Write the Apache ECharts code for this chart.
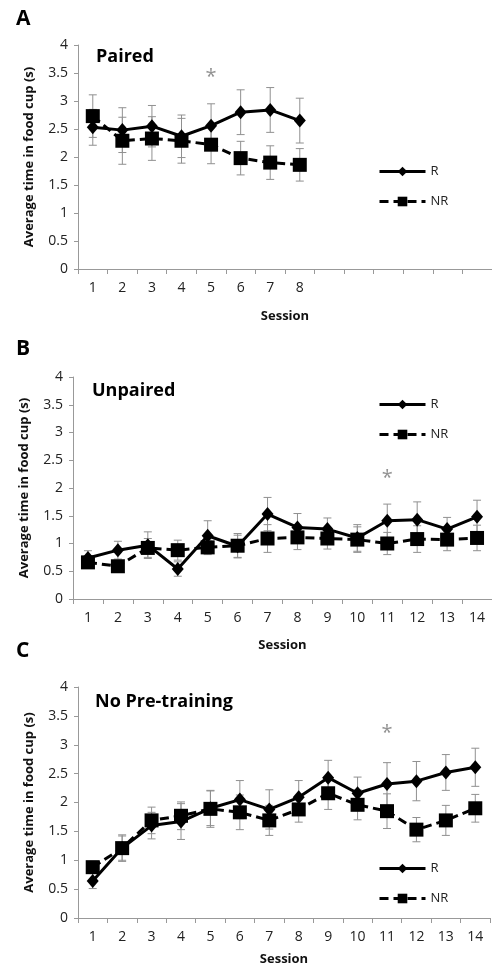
<!DOCTYPE html>
<html>
<head>
<meta charset="utf-8">
<script src="https://cdn.jsdelivr.net/npm/echarts@6/dist/echarts.min.js"></script>
<style>
  html, body { margin: 0; padding: 0; background: #fff; }
  #main { width: 492px; height: 967px; }
</style>
</head>
<body>
<div id="main"></div>
<script>
// session labels
var sessionsA = ['1', '2', '3', '4', '5', '6', '7', '8', '', '', '', '', '', ''];
var sessions = ['1', '2', '3', '4', '5', '6', '7', '8', '9', '10', '11', '12', '13', '14'];

// A - Paired
var rA = [2.53, 2.48, 2.55, 2.37, 2.56, 2.8, 2.84, 2.65];
var rAerr = [0.32, 0.4, 0.37, 0.38, 0.39, 0.4, 0.4, 0.4];
var nrA = [2.73, 2.29, 2.33, 2.29, 2.22, 1.98, 1.9, 1.86];
var nrAerr = [0.38, 0.42, 0.39, 0.4, 0.34, 0.3, 0.3, 0.29];

// B - Unpaired
var rB = [0.74, 0.88, 0.97, 0.54, 1.14, 0.95, 1.53, 1.29, 1.26, 1.1, 1.41, 1.43, 1.26, 1.48];
var rBerr = [0.13, 0.16, 0.24, 0.13, 0.27, 0.2, 0.3, 0.25, 0.2, 0.24, 0.3, 0.32, 0.21, 0.3];
var nrB = [0.66, 0.59, 0.92, 0.88, 0.93, 0.96, 1.09, 1.11, 1.09, 1.07, 1.0, 1.08, 1.07, 1.1];
var nrBerr = [0.08, 0.08, 0.17, 0.18, 0.13, 0.22, 0.25, 0.22, 0.19, 0.23, 0.2, 0.24, 0.2, 0.23];

// C - No Pre-training
var rC = [0.64, 1.21, 1.6, 1.67, 1.9, 2.05, 1.88, 2.09, 2.43, 2.16, 2.32, 2.37, 2.52, 2.61];
var rCerr = [0.13, 0.23, 0.23, 0.31, 0.3, 0.33, 0.34, 0.29, 0.3, 0.28, 0.37, 0.34, 0.31, 0.33];
var nrC = [0.88, 1.21, 1.69, 1.77, 1.89, 1.83, 1.69, 1.88, 2.16, 1.96, 1.85, 1.53, 1.69, 1.9];
var nrCerr = [0.1, 0.21, 0.23, 0.24, 0.32, 0.3, 0.26, 0.22, 0.28, 0.26, 0.3, 0.21, 0.26, 0.24];

// significance stars [session index, y]
var starA = [4, 3.42];
var starB = [10, 2.18];
var starC = [10, 3.2];

var FONT = '"Open Sans", "Liberation Sans", sans-serif';
var grids = [
  { left: 78, top: 45, width: 417, height: 224 },
  { left: 73, top: 377, width: 420, height: 222 },
  { left: 78, top: 687, width: 412, height: 231 }
];

function xAxisFor(i, cats, gap) {
  return {
    type: 'category', gridIndex: i, data: cats, boundaryGap: true,
    name: 'Session', nameLocation: 'middle', nameGap: gap,
    nameTextStyle: { fontFamily: FONT, fontWeight: 'bold', fontSize: 13, color: '#111' },
    axisLine: { lineStyle: { color: '#999', width: 1 } },
    axisTick: { show: true, inside: false, length: 5, alignWithLabel: false, lineStyle: { color: '#999' } },
    axisLabel: { fontFamily: FONT, fontSize: 14, color: '#222', margin: 12, interval: 0 },
    splitLine: { show: false }
  };
}
function yAxisFor(i) {
  return {
    type: 'value', gridIndex: i, min: 0, max: 4, interval: 0.5,
    name: 'Average time in food cup (s)', nameLocation: 'middle', nameRotate: 90, nameGap: 42,
    nameTextStyle: { fontFamily: FONT, fontWeight: 'bold', fontSize: 13, color: '#111' },
    axisLine: { show: true, lineStyle: { color: '#999', width: 1 } },
    axisTick: { show: true, length: 4, lineStyle: { color: '#999' } },
    axisLabel: { fontFamily: FONT, fontSize: 14, color: '#222', margin: 10 },
    splitLine: { show: false }
  };
}

function errData(vals, errs) {
  return vals.map(function (v, k) { return [k, v, errs[k]]; });
}
function errSeries(i, vals, errs) {
  return {
    type: 'custom', xAxisIndex: i, yAxisIndex: i, z: 1, silent: true,
    data: errData(vals, errs),
    encode: { x: 0, y: 1 },
    renderItem: function (params, api) {
      var x = api.value(0), v = api.value(1), e = api.value(2);
      var hi = api.coord([x, v + e]);
      var lo = api.coord([x, v - e]);
      var st = { stroke: '#909090', lineWidth: 1 };
      return {
        type: 'group',
        children: [
          { type: 'line', shape: { x1: hi[0], y1: hi[1], x2: lo[0], y2: lo[1] }, style: st },
          { type: 'line', shape: { x1: hi[0] - 4, y1: hi[1], x2: hi[0] + 4, y2: hi[1] }, style: st },
          { type: 'line', shape: { x1: lo[0] - 4, y1: lo[1], x2: lo[0] + 4, y2: lo[1] }, style: st }
        ]
      };
    }
  };
}
function rSeries(i, vals) {
  return {
    name: 'R', type: 'line', xAxisIndex: i, yAxisIndex: i, data: vals, z: 3,
    symbol: 'diamond', symbolSize: [12, 14],
    itemStyle: { color: '#000' },
    lineStyle: { color: '#000', width: 3, type: 'solid' }
  };
}
function nrSeries(i, vals) {
  return {
    name: 'NR', type: 'line', xAxisIndex: i, yAxisIndex: i, data: vals, z: 2,
    symbol: 'rect', symbolSize: 14,
    itemStyle: { color: '#000' },
    lineStyle: { color: '#000', width: 3, type: [9, 5] }
  };
}
function starSeries(i, pos) {
  return {
    type: 'scatter', xAxisIndex: i, yAxisIndex: i, data: [pos], symbolSize: 0, silent: true,
    label: { show: true, position: 'inside', formatter: '*', fontFamily: FONT, fontSize: 20, color: '#777' }
  };
}
function legendFor(top) {
  return {
    data: ['R', 'NR'], orient: 'vertical', left: 373, top: top,
    itemWidth: 46, itemHeight: 12, itemGap: 17,
    lineStyle: { width: 3 },
    textStyle: { fontFamily: FONT, fontSize: 13, color: '#222' }
  };
}
function panelText(txt, left, top, size) {
  return {
    text: txt, left: left, top: top, padding: 0,
    textStyle: { fontFamily: FONT, fontWeight: 'bold', fontSize: size, color: '#000' }
  };
}

var chart = echarts.init(document.getElementById('main'), null, { renderer: 'canvas' });
chart.setOption({
  animation: false,
  backgroundColor: '#fff',
  title: [
    panelText('A', 16, 9, 21),
    panelText('Paired', 96, 48, 18),
    panelText('B', 16, 339, 21),
    panelText('Unpaired', 92, 382, 18),
    panelText('C', 16, 641, 21),
    panelText('No Pre-training', 95, 693, 18)
  ],
  legend: [legendFor(160), legendFor(393), legendFor(857)],
  grid: grids,
  xAxis: [xAxisFor(0, sessionsA, 41), xAxisFor(1, sessions, 40), xAxisFor(2, sessions, 35)],
  yAxis: [yAxisFor(0), yAxisFor(1), yAxisFor(2)],
  series: [
    errSeries(0, rA, rAerr), errSeries(0, nrA, nrAerr), nrSeries(0, nrA), rSeries(0, rA), starSeries(0, starA),
    errSeries(1, rB, rBerr), errSeries(1, nrB, nrBerr), nrSeries(1, nrB), rSeries(1, rB), starSeries(1, starB),
    errSeries(2, rC, rCerr), errSeries(2, nrC, nrCerr), nrSeries(2, nrC), rSeries(2, rC), starSeries(2, starC)
  ]
});
</script>
</body>
</html>
